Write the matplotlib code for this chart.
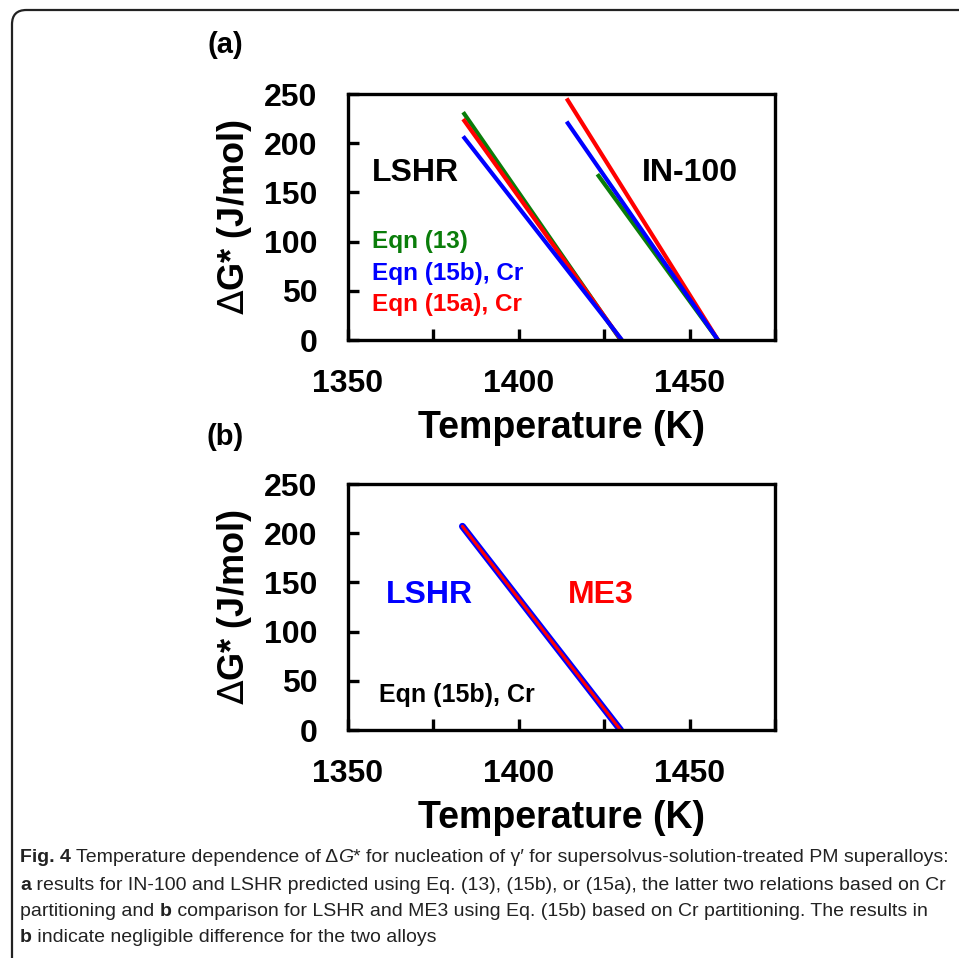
import matplotlib
matplotlib.use('Agg')
import matplotlib.pyplot as plt
from matplotlib.patches import FancyBboxPatch

# Panel (a) data: straight lines, start and end points
lshr_T_eq13 = [1383.7, 1429.8]
lshr_G_eq13 = [231.5, 0]
lshr_T_eq15a = [1383.7, 1430.0]
lshr_G_eq15a = [224.5, 0]
lshr_T_eq15b = [1383.7, 1430.2]
lshr_G_eq15b = [207, 0]

in100_T_eq15a = [1414.0, 1458.3]
in100_G_eq15a = [245.5, 0]
in100_T_eq15b = [1414.0, 1458.3]
in100_G_eq15b = [222, 0]
in100_T_eq13 = [1423.0, 1458.3]
in100_G_eq13 = [168.5, 0]

# Panel (b) data: LSHR and ME3, Eqn (15b), Cr
b_lshr_T = [1383.5, 1429.8]
b_lshr_G = [207, 0]
b_me3_T = [1383.5, 1429.8]
b_me3_G = [207, 0]

x_ticks = [1350, 1375, 1400, 1425, 1450, 1475]
x_ticklabels = ['1350', '', '1400', '', '1450', '']
y_ticks = [0, 50, 100, 150, 200, 250]

GREEN = '#0a7d0a'
BLUE = '#0000ff'
RED = '#ff0000'

plt.rcParams['font.family'] = ['Liberation Sans', 'DejaVu Sans']

fig = plt.figure(figsize=(9.59, 9.58), dpi=100)
W, H = 959, 958


def setup_axes(ax):
    ax.set_xlim(1350, 1475)
    ax.set_ylim(0, 250)
    ax.set_xticks(x_ticks)
    ax.set_xticklabels(x_ticklabels)
    ax.set_yticks(y_ticks)
    for s in ax.spines.values():
        s.set_linewidth(2.4)
    ax.tick_params(direction='in', length=8, width=2.4, labelsize=23)
    ax.tick_params(axis='x', pad=21)
    ax.tick_params(axis='y', pad=22)
    for lab in ax.get_xticklabels() + ax.get_yticklabels():
        lab.set_fontweight('bold')
    ax.set_xlabel('Temperature (K)', fontsize=27, fontweight='bold', labelpad=8)
    ax.set_ylabel(r'$\Delta$G* (J/mol)', fontsize=26, fontweight='bold', labelpad=7)


# panel (a)
ax1 = fig.add_axes([348 / W, 1 - 340 / H, 427 / W, 246 / H])
setup_axes(ax1)
ax1.plot(lshr_T_eq13, lshr_G_eq13, color=GREEN, lw=3, solid_capstyle='butt')
ax1.plot(lshr_T_eq15a, lshr_G_eq15a, color=RED, lw=3, solid_capstyle='butt')
ax1.plot(lshr_T_eq15b, lshr_G_eq15b, color=BLUE, lw=3, solid_capstyle='butt')
ax1.plot(in100_T_eq13, in100_G_eq13, color=GREEN, lw=3, solid_capstyle='butt')
ax1.plot(in100_T_eq15a, in100_G_eq15a, color=RED, lw=3, solid_capstyle='butt')
ax1.plot(in100_T_eq15b, in100_G_eq15b, color=BLUE, lw=3, solid_capstyle='butt')
ax1.text(1357, 170, 'LSHR', fontsize=23, fontweight='bold', va='center')
ax1.text(1436, 170, 'IN-100', fontsize=23, fontweight='bold', va='center')
ax1.text(1357, 100, 'Eqn (13)', fontsize=17.5, fontweight='bold', color=GREEN, va='center')
ax1.text(1357, 68, 'Eqn (15b), Cr', fontsize=17.5, fontweight='bold', color=BLUE, va='center')
ax1.text(1357, 36, 'Eqn (15a), Cr', fontsize=17.5, fontweight='bold', color=RED, va='center')

# panel (b)
ax2 = fig.add_axes([348 / W, 1 - 730 / H, 427 / W, 246 / H])
setup_axes(ax2)
ax2.plot(b_lshr_T, b_lshr_G, color=BLUE, lw=5, solid_capstyle='round')
ax2.plot(b_me3_T, b_me3_G, color=RED, lw=2.2, solid_capstyle='round')
ax2.text(1361, 137, 'LSHR', fontsize=23, fontweight='bold', color=BLUE, va='center')
ax2.text(1414.5, 137, 'ME3', fontsize=23, fontweight='bold', color=RED, va='center')
ax2.text(1359, 36, 'Eqn (15b), Cr', fontsize=18, fontweight='bold', color='black', va='center')

fig.text(225 / W, 1 - 45 / H, '(a)', fontsize=21, fontweight='bold', ha='center', va='center')
fig.text(225 / W, 1 - 437 / H, '(b)', fontsize=21, fontweight='bold', ha='center', va='center')

# rounded frame, cut off at right and bottom like the source
frame = FancyBboxPatch((12 / W, -0.05), 1.05, 1 - 10 / H + 0.05,
                       boxstyle='round,pad=0,rounding_size=0.015',
                       transform=fig.transFigure, fill=False,
                       edgecolor='#222222', lw=1.6, clip_on=False)
fig.patches.append(frame)

# caption with bold pieces
caption = [
    [('Fig. 4', True), (' Temperature dependence of \u0394', False), ('G', 'italic'),
     ('* for nucleation of \u03b3\u2032 for supersolvus-solution-treated PM superalloys:', False)],
    [('a', True), (' results for IN-100 and LSHR predicted using Eq. (13), (15b), or (15a), the latter two relations based on Cr', False)],
    [('partitioning and ', False), ('b', True), (' comparison for LSHR and ME3 using Eq. (15b) based on Cr partitioning. The results in', False)],
    [('b', True), (' indicate negligible difference for the two alloys', False)],
]
line_y = [858, 885, 911, 937]

fig.canvas.draw()
renderer = fig.canvas.get_renderer()


def draw_line(segs, yy, size, draw=True):
    x = 20
    made = []
    for txt, style in segs:
        kw = dict(fontsize=size, color='#222222', va='center', ha='left')
        if style is True:
            kw['fontweight'] = 'bold'
        elif style == 'italic':
            kw['fontstyle'] = 'italic'
        t = fig.text(x / W, 1 - yy / H, txt, **kw)
        x += t.get_window_extent(renderer).width
        made.append(t)
    if not draw:
        for t in made:
            t.remove()
    return x


# fit the first caption line to end where the source's does
end = draw_line(caption[0], line_y[0], 14, draw=False)
cap_size = 14 * (950 - 20) / (end - 20)
for segs, yy in zip(caption, line_y):
    draw_line(segs, yy, cap_size)

fig.savefig('out.png', dpi=100)
